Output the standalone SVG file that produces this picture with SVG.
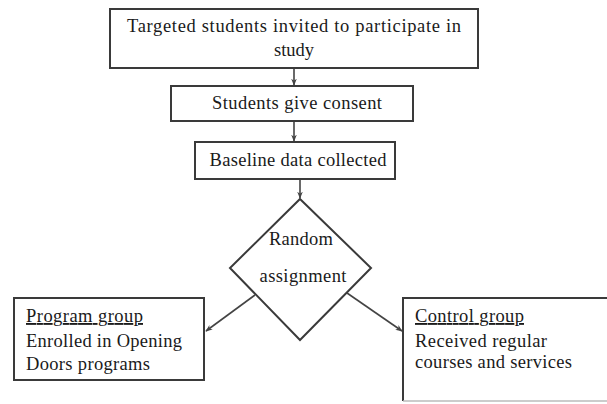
<svg xmlns="http://www.w3.org/2000/svg" width="607" height="404" viewBox="0 0 607 404">
<style>
.box{fill:#fff;stroke:#3a3a3a;stroke-width:2}
.t{font-family:"Liberation Serif","Times New Roman",serif;font-size:18.5px;fill:#1a1a1a}
.c{text-anchor:middle}
.u{text-decoration:underline}
.conn{stroke:#444;stroke-width:1.6;fill:none;marker-end:url(#ah)}
</style>
<defs>
<marker id="ah" viewBox="0 0 10 10" refX="9" refY="5" markerWidth="7" markerHeight="7" orient="auto" markerUnits="userSpaceOnUse">
<path d="M0,1 L10,5 L0,9 L3,5 Z" fill="#444"/>
</marker>
</defs>
<rect width="607" height="404" fill="#fff"/>
<g id="connectors">
<line class="conn" x1="294" y1="68" x2="294" y2="85"/>
<line class="conn" x1="294" y1="121" x2="294" y2="141"/>
<line class="conn" x1="300" y1="179" x2="300" y2="198"/>
<line class="conn" x1="255" y1="295" x2="206" y2="331"/>
<line class="conn" x1="347" y1="293" x2="402" y2="331"/>
</g>
<g id="n1">
<rect class="box" x="110" y="9" width="368" height="59"/>
<text class="t c" x="294" y="32" textLength="334">Targeted students invited to participate in</text>
<text class="t c" x="294" y="56">study</text>
</g>
<g id="n2">
<rect class="box" x="171" y="86" width="242" height="35"/>
<text class="t c" x="297" y="109" textLength="170">Students give consent</text>
</g>
<g id="n3">
<rect class="box" x="195" y="142" width="200" height="37"/>
<text class="t c" x="298" y="166" textLength="177">Baseline data collected</text>
</g>
<g id="n4">
<polygon class="box" points="300,199 371,268 300,340 230,268"/>
<text class="t c" x="301" y="245" textLength="64">Random</text>
<text class="t c" x="303" y="282" textLength="87">assignment</text>
</g>
<g id="n5">
<rect class="box" x="14" y="298" width="190" height="82"/>
<text class="t u" x="26" y="322" textLength="117">Program group</text>
<text class="t" x="26" y="347" textLength="156">Enrolled in Opening</text>
<text class="t" x="26" y="370" textLength="124">Doors programs</text>
</g>
<g id="n6">
<path class="box" d="M617,298 H403 V401"/>
<line x1="403" y1="401" x2="607" y2="401" stroke="#bbb" stroke-width="1.5"/>
<text class="t u" x="415" y="322" textLength="109">Control group</text>
<text class="t" x="415" y="347" textLength="132">Received regular</text>
<text class="t" x="415" y="368" textLength="157">courses and services</text>
</g>
</svg>
